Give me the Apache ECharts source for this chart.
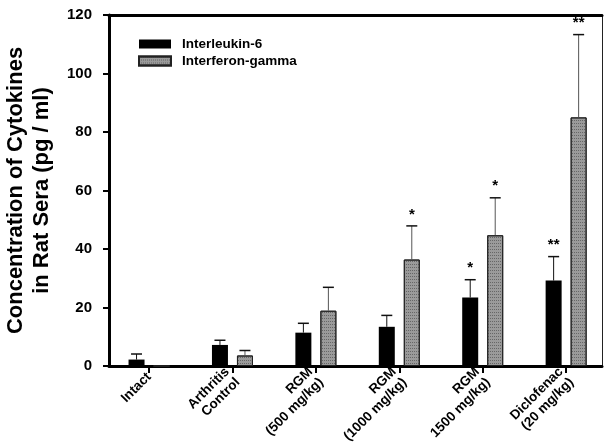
<!DOCTYPE html>
<html>
<head>
<meta charset="utf-8">
<script src="https://cdn.jsdelivr.net/npm/echarts@6/dist/echarts.min.js"></script>
<style>html,body{margin:0;padding:0;background:#fff}#c{width:607px;height:443px}</style>
</head>
<body>
<div id="c"></div>
<script>
var categories = ['Intact', 'Arthritis\nControl', 'RGM\n(500 mg/kg)', 'RGM\n(1000 mg/kg)', 'RGM\n1500 mg/kg)', 'Diclofenac\n(20 mg/kg)'];
var il6 = [2.2, 7.2, 11.4, 13.4, 23.4, 29.2];
var il6Err = [1.9, 1.6, 3.2, 3.9, 6.1, 8.2];
var il6Sig = ['', '', '', '', '*', '**'];
var ifn = [0, 3.6, 18.9, 36.4, 44.7, 85.0];
var ifnErr = [0, 1.7, 8.0, 11.5, 12.8, 28.3];
var ifnSig = ['', '', '', '*', '*', '**'];
var yTicks = [0, 20, 40, 60, 80, 100, 120];

var FONT = 'Liberation Sans, Arial, sans-serif';
var BAR_W = 16, BAR_GAP_PX = 9;
var BAR_GAP = (BAR_GAP_PX / BAR_W * 100).toFixed(1) + '%';
var OFFSETS = [-(BAR_W + BAR_GAP_PX) / 2, (BAR_W + BAR_GAP_PX) / 2];

var chart = echarts.init(document.getElementById('c'));

function pairs(arr) { return arr.map(function (v, i) { return [i, v]; }); }
function errData(vals, errs) { return vals.map(function (v, i) { return [i, v, errs[i]]; }); }

function errRender(seriesIdx, sig, color) {
  return function (params, api) {
    var x = api.value(0), m = api.value(1), e = api.value(2);
    var base = api.coord([x, m]);
    var top = api.coord([x, m + e]);
    var cx = base[0] + OFFSETS[seriesIdx];
    var children = [];
    if (e > 0) {
      children.push({ type: 'line', shape: { x1: cx, y1: base[1], x2: cx, y2: top[1] }, style: { stroke: color, lineWidth: 1 } });
      children.push({ type: 'line', shape: { x1: cx - 5.5, y1: top[1], x2: cx + 5.5, y2: top[1] }, style: { stroke: '#111', lineWidth: 1.5 } });
    }
    var s = sig[params.dataIndex];
    if (s) {
      children.push({ type: 'text', style: { text: s, x: cx, y: top[1] - 4, align: 'center', verticalAlign: 'bottom', font: 'bold 15px ' + FONT, fill: '#000' } });
    }
    return { type: 'group', children: children };
  };
}

chart.setOption({
  animation: false,
  backgroundColor: '#fff',
  grid: { left: 109, right: 5, top: 15, bottom: 77, show: false, containLabel: false, outerBoundsMode: 'none' },
  legend: {
    orient: 'vertical', left: 133, top: 32, icon: 'rect', itemWidth: 32, itemHeight: 9, itemGap: 3,
    textStyle: { fontFamily: FONT, fontWeight: 'bold', fontSize: 13.5, color: '#000', padding: [0, 0, 0, 6] },
    data: ['Interleukin-6', 'Interferon-gamma']
  },
  xAxis: [{
    type: 'value', min: -0.48, max: 5.43,
    splitLine: { show: false },
    axisLine: { show: true, onZero: false, lineStyle: { color: '#000', width: 3 } },
    axisTick: { show: true, customValues: [0, 1, 2, 3, 4, 5], length: 7, lineStyle: { color: '#000', width: 2 } },
    axisLabel: {
      customValues: [0, 1, 2, 3, 4, 5], rotate: 45, margin: 9, align: 'right',
      fontFamily: FONT, fontWeight: 'bold', fontSize: 13.5, color: '#000', lineHeight: 15,
      formatter: function (v) { return categories[Math.round(v)]; }
    }
  }, {
    type: 'value', position: 'top', min: -0.48, max: 5.43,
    axisLine: { show: true, onZero: false, lineStyle: { color: '#000', width: 3 } },
    axisTick: { show: false }, axisLabel: { show: false }, splitLine: { show: false }
  }],
  yAxis: [{
    type: 'value', min: 0, max: 120, interval: 20,
    name: 'Concentration of Cytokines\nin Rat Sera (pg / ml)',
    nameLocation: 'middle', nameGap: 54, nameRotate: 90,
    nameTextStyle: { fontFamily: FONT, fontWeight: 'bold', fontSize: 22, color: '#000', lineHeight: 26 },
    splitLine: { show: false },
    axisLine: { show: true, onZero: false, lineStyle: { color: '#000', width: 3 } },
    axisTick: { show: true, length: 6, lineStyle: { color: '#000', width: 2 } },
    axisLabel: { margin: 17, fontFamily: FONT, fontWeight: 'bold', fontSize: 15, color: '#000',
      formatter: function (v) { return yTicks.indexOf(v) >= 0 ? String(v) : ''; } }
  }, {
    type: 'value', position: 'right', min: 0, max: 120, interval: 20,
    axisLine: { show: true, onZero: false, lineStyle: { color: '#222', width: 1 } },
    axisTick: { show: false }, axisLabel: { show: false }, splitLine: { show: false }
  }],
  series: [{
    name: 'Interleukin-6', type: 'bar', barWidth: BAR_W, barGap: BAR_GAP,
    data: pairs(il6),
    itemStyle: { color: '#000' }
  }, {
    name: 'Interferon-gamma', type: 'bar', barWidth: BAR_W, barGap: BAR_GAP,
    data: pairs(ifn),
    itemStyle: {
      color: '#9a9a9a', borderColor: '#222', borderWidth: 1,
      decal: { symbol: 'rect', symbolSize: 1, color: 'rgba(60,60,60,0.55)', dashArrayX: [1, 1], dashArrayY: [1, 2], rotation: 0 }
    }
  }, {
    type: 'custom', renderItem: errRender(0, il6Sig, '#111'), data: errData(il6, il6Err), z: 5,
    encode: { x: 0, y: [1, 2] }, silent: true
  }, {
    type: 'custom', renderItem: errRender(1, ifnSig, '#555'), data: errData(ifn, ifnErr), z: 5,
    encode: { x: 0, y: [1, 2] }, silent: true
  }]
});
</script>
</body>
</html>
